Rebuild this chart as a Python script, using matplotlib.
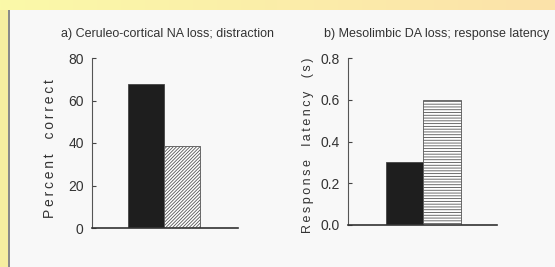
import numpy as np
import matplotlib
matplotlib.use("Agg")
import matplotlib.pyplot as plt
from matplotlib.patches import Rectangle

# data
groups = ["control", "lesion"]
pct_correct = [68, 38.5]
latency = [0.30, 0.60]

title_a = "a) Ceruleo-cortical NA loss; distraction"
title_b = "b) Mesolimbic DA loss; response latency"
ylab_a = "Percent correct"
ylab_b = "Response latency (s)"

plt.rcParams['font.family'] = ['Liberation Sans', 'DejaVu Sans']
plt.rcParams['hatch.linewidth'] = 0.6

W, H = 555, 267
fig = plt.figure(figsize=(W / 100, H / 100), dpi=100, facecolor='#f8f8f8')


def spaced(s):
    # wide letter spacing like the scanned figure
    return "\u2009".join(s).replace("\u2009 \u2009", "\u2009\u2009 \u2009\u2009")


# yellow frame: top gradient strip and left strip
top = fig.add_axes([0, 1 - 10 / H, 1, 10 / H])
grad = np.linspace(0, 1, 256)[None, :, None]
c0 = np.array([250, 249, 168]) / 255
c1 = np.array([252, 226, 170]) / 255
top.imshow(c0 + (c1 - c0) * grad, aspect='auto', extent=[0, 1, 0, 1])
top.axis('off')
fig.patches.append(Rectangle((0, 0), 8 / W, 1 - 10 / H, transform=fig.transFigure,
                             facecolor='#f6eea0', edgecolor='none', zorder=0))
fig.patches.append(Rectangle((8 / W, 0), 2 / W, 1 - 10 / H, transform=fig.transFigure,
                             facecolor='#8a8a8a', edgecolor='none', zorder=0))


def panel(rect, vals, ylim, ticks, ticklabels, xmax, hatch, ylab, labsize, labpos):
    ax = fig.add_axes(rect)
    ax.set_facecolor('none')
    ax.bar([1.5], [vals[0]], width=1, color='#1e1e1e', edgecolor='#444444', lw=0.6)
    ax.bar([2.5], [vals[1]], width=1, color='white', edgecolor='#555555',
           hatch=hatch, lw=0.6)
    ax.set_xlim(0, xmax)
    ax.set_ylim(*ylim)
    ax.set_xticks([])
    ax.set_yticks(ticks)
    ax.set_yticklabels(ticklabels, fontsize=10, color='#333333')
    ax.tick_params(axis='y', direction='in', length=3, width=0.8, pad=6, color='#444444')
    for s in ['top', 'right']:
        ax.spines[s].set_visible(False)
    ax.spines['left'].set_color('#555555')
    ax.spines['bottom'].set_color('#333333')
    ax.spines['left'].set_linewidth(0.8)
    ax.spines['bottom'].set_linewidth(1.2)
    ax.set_ylabel(spaced(ylab), fontsize=labsize, color='#333333')
    ax.yaxis.label.set_va('center')
    ax.yaxis.set_label_coords(labpos[0], labpos[1])
    return ax


ax1 = panel([92 / W, 39 / H, 146 / W, 170 / H], pct_correct, (0, 80),
            [0, 20, 40, 60, 80], ["0", "20", "40", "60", "80"], 146 / 36,
            '//////////', ylab_a, 10, (-0.285, 0.47))
ax2 = panel([348 / W, 42 / H, 149 / W, 167 / H], latency, (0, 0.8),
            [0, 0.2, 0.4, 0.6, 0.8], ["0.0", "0.2", "0.4", "0.6", "0.8"], 149 / 37.5,
            '------', ylab_b, 9, (-0.27, 0.48))

fig.text(61 / W, 1 - 34 / H, title_a, fontsize=9, color='#333333', ha='left', va='center')
fig.text(324 / W, 1 - 34 / H, title_b, fontsize=9, color='#333333', ha='left', va='center')

fig.savefig("out.png", dpi=100, facecolor=fig.get_facecolor())
